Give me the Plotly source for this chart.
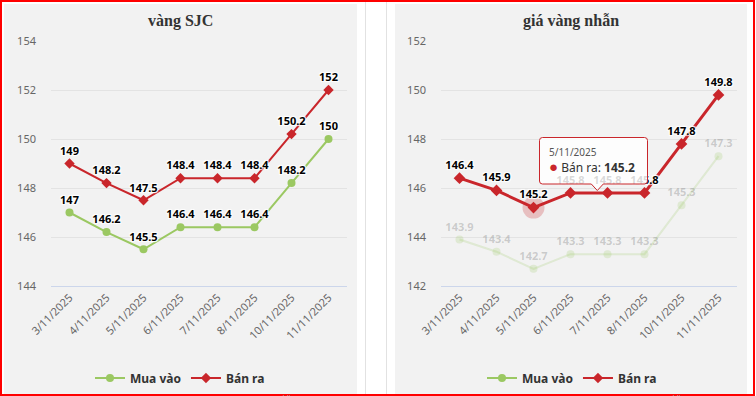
import plotly.graph_objects as go

# ---------------- data ----------------
dates = ["3/11/2025", "4/11/2025", "5/11/2025", "6/11/2025",
         "7/11/2025", "8/11/2025", "10/11/2025", "11/11/2025"]
sjc_buy = [147, 146.2, 145.5, 146.4, 146.4, 146.4, 148.2, 150]
sjc_sell = [149, 148.2, 147.5, 148.4, 148.4, 148.4, 150.2, 152]
ring_buy = [143.9, 143.4, 142.7, 143.3, 143.3, 143.3, 145.3, 147.3]
ring_sell = [146.4, 145.9, 145.2, 145.8, 145.8, 145.8, 147.8, 149.8]
sjc_ticks = [144, 146, 148, 150, 152, 154]
ring_ticks = [142, 144, 146, 148, 150, 152]
titles = ["vàng SJC", "giá vàng nhẫn"]
series_names = ["Mua vào", "Bán ra"]
credit_text = "Vietnamnet.vn"
tooltip_index = 2

# ---------------- style ----------------
W, H = 756, 396
GREEN = "#9bc862"
GREEN_FADE = "rgba(155,200,98,0.22)"
RED = "#c9262b"
PANEL = "#f2f2f2"
FONT = "Noto Sans"
OUTLINE = "1px 1px 1px #fff, -1px -1px 1px #fff, 1px -1px 1px #fff, -1px 1px 1px #fff"


def px(x):
    return x / W


def py(y):
    return 1 - y / H


def fmt(v):
    return f"{v:g}"


fig = go.Figure()

label_font = dict(family=FONT, size=11, color="#000", weight="bold", shadow=OUTLINE)

# ---- left chart ----
fig.add_trace(go.Scatter(
    x=dates, y=sjc_buy, name=series_names[0], mode="lines+markers+text",
    text=[fmt(v) for v in sjc_buy], textposition="top center", textfont=label_font,
    line=dict(color=GREEN, width=2), marker=dict(color=GREEN, size=8, symbol="circle"),
    xaxis="x", yaxis="y", legend="legend", cliponaxis=False))
fig.add_trace(go.Scatter(
    x=dates, y=sjc_sell, name=series_names[1], mode="lines+markers+text",
    text=[fmt(v) for v in sjc_sell], textposition="top center", textfont=label_font,
    line=dict(color=RED, width=2), marker=dict(color=RED, size=8, symbol="diamond"),
    xaxis="x", yaxis="y", legend="legend", cliponaxis=False))

# ---- right chart ----
fig.add_trace(go.Scatter(
    x=dates, y=ring_buy, name=series_names[0], mode="lines+markers+text",
    text=[fmt(v) for v in ring_buy], textposition="top center",
    textfont=dict(family=FONT, size=11, color="rgba(60,60,60,0.22)", weight="bold"),
    line=dict(color=GREEN_FADE, width=2), marker=dict(color=GREEN_FADE, size=8, symbol="circle"),
    xaxis="x2", yaxis="y2", showlegend=False, cliponaxis=False))
fig.add_trace(go.Scatter(
    x=[dates[tooltip_index]], y=[ring_sell[tooltip_index]], mode="markers",
    marker=dict(color="rgba(201,38,43,0.25)", size=22), hoverinfo="skip",
    xaxis="x2", yaxis="y2", showlegend=False, cliponaxis=False))
fig.add_trace(go.Scatter(
    x=dates, y=ring_sell, name=series_names[1], mode="lines+markers+text",
    text=[fmt(v) for v in ring_sell], textposition="top center", textfont=label_font,
    line=dict(color=RED, width=3), marker=dict(color=RED, size=9, symbol="diamond"),
    xaxis="x2", yaxis="y2", showlegend=False, cliponaxis=False))
# legend entries for right chart (full colour)
fig.add_trace(go.Scatter(
    x=[None], y=[None], name=series_names[0], mode="lines+markers",
    line=dict(color=GREEN, width=2), marker=dict(color=GREEN, size=8, symbol="circle"),
    xaxis="x2", yaxis="y2", legend="legend2"))
fig.add_trace(go.Scatter(
    x=[None], y=[None], name=series_names[1], mode="lines+markers",
    line=dict(color=RED, width=2), marker=dict(color=RED, size=8, symbol="diamond"),
    xaxis="x2", yaxis="y2", legend="legend2"))

tickfont = dict(family=FONT, size=11, color="#666")
xcommon = dict(type="category", range=[-0.5, len(dates) - 0.5], tickangle=-45,
               tickfont=tickfont, showgrid=False, showline=True, linecolor="#ccd6eb",
               linewidth=1, ticks="", zeroline=False, fixedrange=True, automargin=False)
ycommon = dict(showgrid=True, gridcolor="#e3e3e3", gridwidth=1, zeroline=False,
               tickfont=tickfont, ticks="", showline=False, fixedrange=True,
               ticklabelstandoff=14, automargin=False)
ydom = [py(286), py(41)]

fig.update_layout(
    width=W, height=H, autosize=False,
    margin=dict(l=0, r=0, t=0, b=0, pad=0, autoexpand=False),
    paper_bgcolor="white", plot_bgcolor="rgba(0,0,0,0)",
    hovermode=False,
    xaxis=dict(domain=[px(51), px(347)], anchor="y", **xcommon),
    yaxis=dict(domain=ydom, anchor="x", range=[sjc_ticks[0], sjc_ticks[-1]],
               tickvals=sjc_ticks, **ycommon),
    xaxis2=dict(domain=[px(441), px(737)], anchor="y2", **xcommon),
    yaxis2=dict(domain=ydom, anchor="x2", range=[ring_ticks[0], ring_ticks[-1]],
                tickvals=ring_ticks, **ycommon),
    legend=dict(x=px(180), xanchor="center", y=py(378), yanchor="middle",
                orientation="h", bgcolor="rgba(0,0,0,0)",
                font=dict(family=FONT, size=12, color="#333", weight="bold"),
                itemwidth=30),
    legend2=dict(x=px(572), xanchor="center", y=py(378), yanchor="middle",
                 orientation="h", bgcolor="rgba(0,0,0,0)",
                 font=dict(family=FONT, size=12, color="#333", weight="bold"),
                 itemwidth=30),
)

shapes = [
    dict(type="rect", xref="paper", yref="paper", x0=px(4), x1=px(357), y0=py(396), y1=py(4),
         fillcolor=PANEL, line=dict(width=0), layer="below"),
    dict(type="rect", xref="paper", yref="paper", x0=px(395), x1=px(747), y0=py(396), y1=py(4),
         fillcolor=PANEL, line=dict(width=0), layer="below"),
    dict(type="line", xref="paper", yref="paper", x0=px(365.5), x1=px(365.5), y0=0, y1=py(2),
         line=dict(color="#e2e2e2", width=1), layer="below"),
    dict(type="line", xref="paper", yref="paper", x0=px(386.5), x1=px(386.5), y0=0, y1=py(2),
         line=dict(color="#e2e2e2", width=1), layer="below"),
    dict(type="rect", xref="paper", yref="paper", x0=px(1), x1=px(754), y0=py(395), y1=py(1),
         line=dict(color="#ff0000", width=2), fillcolor="rgba(0,0,0,0)", layer="above"),
]

# tooltip box with pointer
L, R, T, B, TipX, TipY, r = 539.5, 647.5, 137.5, 184.0, 597.3, 190.5, 3
pts = (f"M {px(L + r)},{py(T)} L {px(R - r)},{py(T)} Q {px(R)},{py(T)} {px(R)},{py(T + r)} "
       f"L {px(R)},{py(B - r)} Q {px(R)},{py(B)} {px(R - r)},{py(B)} "
       f"L {px(TipX + 6)},{py(B)} L {px(TipX)},{py(TipY)} L {px(TipX - 6)},{py(B)} "
       f"L {px(L + r)},{py(B)} Q {px(L)},{py(B)} {px(L)},{py(B - r)} "
       f"L {px(L)},{py(T + r)} Q {px(L)},{py(T)} {px(L + r)},{py(T)} Z")
shapes.append(dict(type="path", xref="paper", yref="paper", path=pts,
                   fillcolor="rgba(255,255,255,0.85)", line=dict(color=RED, width=1),
                   layer="above"))
fig.update_layout(shapes=shapes)

annotations = [
    dict(text=f"<b>{titles[0]}</b>", x=px(180.5), y=py(21), xref="paper", yref="paper",
         showarrow=False, xanchor="center", yanchor="middle",
         font=dict(family="Liberation Serif", size=16, color="#333")),
    dict(text=f"<b>{titles[1]}</b>", x=px(571), y=py(21), xref="paper", yref="paper",
         showarrow=False, xanchor="center", yanchor="middle",
         font=dict(family="Liberation Serif", size=16, color="#333")),
    dict(text=credit_text, x=px(347), y=py(390), xref="paper", yref="paper",
         showarrow=False, xanchor="right", yanchor="top",
         font=dict(family=FONT, size=9, color="#999")),
    dict(text=credit_text, x=px(737), y=py(390), xref="paper", yref="paper",
         showarrow=False, xanchor="right", yanchor="top",
         font=dict(family=FONT, size=9, color="#999")),
    dict(text=dates[tooltip_index], x=px(547), y=py(151.5), xref="paper", yref="paper",
         showarrow=False, xanchor="left", yanchor="middle",
         font=dict(family=FONT, size=10, color="#555")),
    dict(text=(f"<span style='color:{RED};font-size:15px'>●</span> {series_names[1]}: "
               f"<b>{fmt(ring_sell[tooltip_index])}</b>"),
         x=px(547), y=py(166.5), xref="paper", yref="paper",
         showarrow=False, xanchor="left", yanchor="middle",
         font=dict(family=FONT, size=12, color="#333")),
]
fig.update_layout(annotations=annotations)

fig.write_html("out.html", config={"displayModeBar": False},
               post_script="document.body.style.margin='0px';document.body.style.overflow='hidden';")
